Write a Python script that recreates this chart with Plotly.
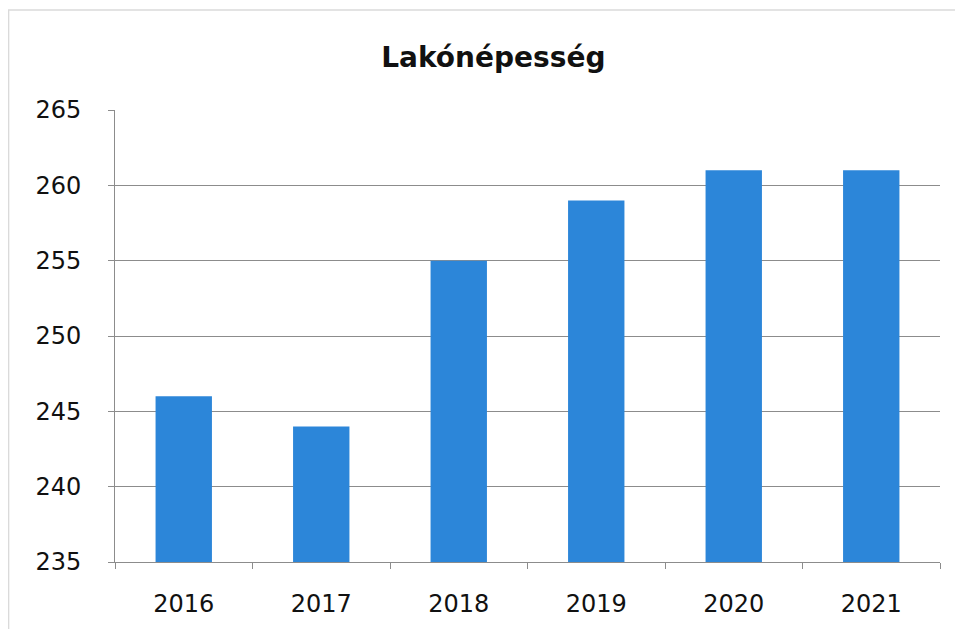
import plotly.graph_objects as go

years = ["2016", "2017", "2018", "2019", "2020", "2021"]
values = [246, 244, 255, 259, 261, 261]
title_text = "Lakónépesség"

fig = go.Figure(go.Bar(x=years, y=values, marker=dict(color="#2C86D9", line=dict(width=0)), width=0.41))

fig.update_layout(
    width=963, height=629,
    margin=dict(l=107, r=31, t=102, b=75),
    paper_bgcolor="white", plot_bgcolor="white",
    title=dict(text="<b>%s</b>" % title_text, xref="container", x=0.504, xanchor="center",
               yref="container", y=0.922, yanchor="middle",
               font=dict(family="DejaVu Sans", size=28, color="#111111")),
    showlegend=False,
    shapes=[dict(type="rect", xref="paper", yref="paper", x0=-0.129, x1=1.03, y0=-0.25, y1=1.221,
                 line=dict(color="#DADADA", width=1.5))],
)
fig.update_yaxes(range=[235, 265], dtick=5, tick0=235, showgrid=True, gridcolor="#8C8C8C", gridwidth=1,
                 showline=True, linecolor="#8C8C8C", ticks="outside", ticklen=6, tickcolor="#8C8C8C",
                 ticklabelstandoff=22,
                 tickfont=dict(family="DejaVu Sans", size=24, color="#111111"), zeroline=False)
fig.update_xaxes(showline=True, linecolor="#8C8C8C", ticks="outside", tickson="boundaries", ticklen=6,
                 tickcolor="#8C8C8C", ticklabelstandoff=20,
                 tickfont=dict(family="DejaVu Sans", size=24, color="#111111"))

fig.write_html("out.html")
